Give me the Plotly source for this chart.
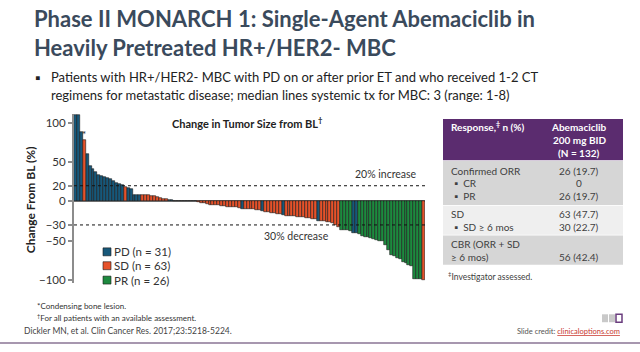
import plotly.graph_objects as go

W, H = 640, 352
FONT = "Lato"

# ---------------- data ----------------
change_pct = [110, 110, 89, 78, 60, 45, 41, 37, 34, 32, 31, 30, 29, 26, 23.5, 22, 21, 18.5, 17.5, 16,
              8.5, 8.5, 8.5, 8.3, 8.2, 8, 7.5, 6.5, 5, 4.5, 3.5, 3, 1.5, 1.2, 1,
              0, 0, 0, 0, 0, 0, 0,
              -1, -2, -2.5, -3.5, -4, -4.2, -4.5, -5, -5.5, -6, -6.8, -7, -7.3, -7.6, -8.4,
              -9.3, -9.5, -9.8, -10, -10.3, -11, -11.5, -12.7, -13.5, -14, -14.5, -15, -15.5, -16, -17,
              -18, -18.3, -18.7, -19, -19.4, -20, -20.5, -21, -21.5, -22, -23, -24.5, -25, -25.5, -26,
              -26.5, -27.4, -30, -33,
              -36, -36.5, -37, -37.5, -40, -40.5,
              -42, -43.5, -45, -46, -46.5, -48, -49, -50, -50.5, -55, -62, -68, -70, -72, -73, -77,
              -79, -81, -83, -99, -99, -99, -100]

response_runs = [("PD", 3), ("SD", 1), ("PD", 13), ("SD", 1), ("PD", 5), ("SD", 9), ("PD", 4),
                 ("SD", 21), ("PD", 1), ("SD", 6), ("PD", 1), ("SD", 6), ("PD", 1), ("SD", 11),
                 ("PD", 1), ("SD", 7), ("PR", 4), ("PD", 2), ("PR", 22), ("SD", 1)]

groups = ["PD", "SD", "PR"]
group_n = [31, 63, 26]
group_colors = {"PD": "#17587a", "SD": "#e6522a", "PR": "#1d8a3f"}

y_ticks = [100, 50, 20, 0, -30, -50, -100]
ref_lines = [20, -30]

table_rows = [
    ("Confirmed ORR", "26 (19.7)"),
    ("▪  CR", "0"),
    ("▪  PR", "26 (19.7)"),
    ("SD", "63 (47.7)"),
    ("▪  SD ≥ 6 mos", "30 (22.7)"),
    ("CBR (ORR + SD", ""),
    ("≥ 6 mos)", "56 (42.4)"),
]

# ---------------- build ----------------
response = []
for g, n in response_runs:
    response += [g] * n
patients = list(range(len(change_pct)))


def px(x):
    return x / W


def py(y):
    return 1 - y / H


fig = go.Figure()
for g in groups:
    xs = [p for p, r in zip(patients, response) if r == g]
    ys = [v for v, r in zip(change_pct, response) if r == g]
    fig.add_trace(go.Bar(x=xs, y=ys, name=g, marker=dict(color=group_colors[g],
                                                         line=dict(color="#1a1a1a", width=0.6)),
                         showlegend=False, hoverinfo="skip"))

annotations = []
shapes = []


def txt(x, y, s, size=10, color="#333333", anchor="left", family=FONT, yanchor="middle", angle=0):
    annotations.append(dict(x=px(x), y=py(y), xref="paper", yref="paper", text=s, showarrow=False,
                            xanchor=anchor, yanchor=yanchor, textangle=angle,
                            font=dict(size=size, color=color, family=family)))


def rect(x0, y0, x1, y1, fill, line=None):
    shapes.append(dict(type="rect", xref="paper", yref="paper", x0=px(x0), x1=px(x1), y0=py(y1), y1=py(y0),
                       fillcolor=fill, line=dict(width=0) if line is None else line, layer="below"))


# title
TITLE_C = "#3a4a5c"
txt(32, 19, "<b>Phase II MONARCH 1: Single-Agent Abemaciclib in</b>", 22, TITLE_C)
txt(32, 48, "<b>Heavily Pretreated HR+/HER2- MBC</b>", 22, TITLE_C)

# bullet
txt(33, 78, "▪", 14, "#222222")
txt(49, 78, "Patients with HR+/HER2- MBC with PD on or after prior ET and who received 1-2 CT", 13, "#222222")
txt(49, 96, "regimens for metastatic disease; median lines systemic tx for MBC: 3 (range: 1-8)", 13, "#222222")

# chart texts
txt(247, 124, "<b>Change in Tumor Size from BL<sup>†</sup></b>", 11, "#222222", anchor="center")
txt(419, 175, "20% increase", 10.5, "#333333", anchor="right")
txt(296, 238, "30% decrease", 10.5, "#333333", anchor="center")
txt(30, 202, "<b>Change From BL (%)</b>", 12, "#222222", anchor="center", angle=-90)

# legend
leg_y = [254, 268, 282.5]
for g, n, yy in zip(groups, group_n, leg_y):
    rect(103, yy - 4, 111, yy + 4, group_colors[g], line=dict(color="#1a1a1a", width=0.6))
    txt(111.5, yy, f"{g} (n = {n})", 11.5, "#333333")

# reference lines
for v in ref_lines:
    shapes.append(dict(type="line", xref="x domain", yref="y", x0=0, x1=1, y0=v, y1=v,
                       line=dict(color="#111111", width=1, dash="dot")))

# table
TX = 443
TXR = 623
rect(TX, 120, TXR, 161.7, "#5b2c6f")
rect(TX, 162.5, TXR, 206.7, "#d6d6d6")
rect(TX, 207.5, TXR, 236.7, "#efefef")
rect(TX, 237.5, TXR, 267, "#d6d6d6")
txt(449, 128, "<b>Response,<sup>‡</sup> n (%)</b>", 10, "#ffffff")
txt(579, 128, "<b>Abemaciclib</b>", 10, "#ffffff", anchor="center")
txt(579, 141, "<b>200 mg BID</b>", 10, "#ffffff", anchor="center")
txt(579, 154, "<b>(N = 132)</b>", 10, "#ffffff", anchor="center")
row_y = [172.7, 185, 197.5, 215.5, 228.5, 246, 259.5]
for (label, val), yy in zip(table_rows, row_y):
    lx = 452 if label.startswith("▪") else 449
    txt(lx, yy, label, 10, "#404040")
    if val:
        txt(579, yy, val, 10, "#404040", anchor="center")
txt(446, 278.5, "<sup>‡</sup>Investigator assessed.", 8.5, "#404040")

# footnotes
txt(35, 309, "*Condensing bone lesion.", 8, "#333333")
txt(35, 320, "<sup>†</sup>For all patients with an available assessment.", 8, "#333333")
txt(22, 334, "Dickler MN, et al. Clin Cancer Res. 2017;23:5218-5224.", 8.5, "#444444")
txt(622, 334, "Slide credit: <span style='color:#c8372d'><u>clinicaloptions.com</u></span>", 7.5,
    "#555555", anchor="right")
# CCO logo
rect(602, 317, 608, 325, "#c9c9c9")
rect(609, 317, 615, 325, "#c9c9c9")
rect(616, 317, 622, 325, "#ffffff", line=dict(color="#6a3d7e", width=1.5))
# bottom rule
shapes.append(dict(type="line", xref="paper", yref="paper", x0=0, x1=1, y0=py(346), y1=py(346),
                   line=dict(color="#8a7494", width=1.5)))

# asterisk
annotations.append(dict(x=3, y=change_pct[3], xref="x", yref="y", text="*", showarrow=False,
                        yanchor="bottom", yshift=-2, font=dict(size=10, color="#222222", family=FONT)))

fig.update_layout(
    width=W, height=H, margin=dict(l=0, r=0, t=0, b=0),
    paper_bgcolor="white", plot_bgcolor="white",
    barmode="overlay", bargap=0,
    annotations=annotations, shapes=shapes,
    xaxis=dict(domain=[px(74), px(425)], range=[-0.5, 119.5], visible=False),
    yaxis=dict(domain=[py(285), py(115)], range=[-103.5, 111.5], tickvals=y_ticks,
               showgrid=False, showline=True, linecolor="#8c8c8c", linewidth=2,
               ticks="outside", ticklen=4, tickcolor="#8c8c8c", tickwidth=1.5,
               tickfont=dict(size=11.5, color="#333333", family=FONT),
               zeroline=True, zerolinecolor="#7a7a7a", zerolinewidth=1.5),
)

fig.write_html("out.html")
